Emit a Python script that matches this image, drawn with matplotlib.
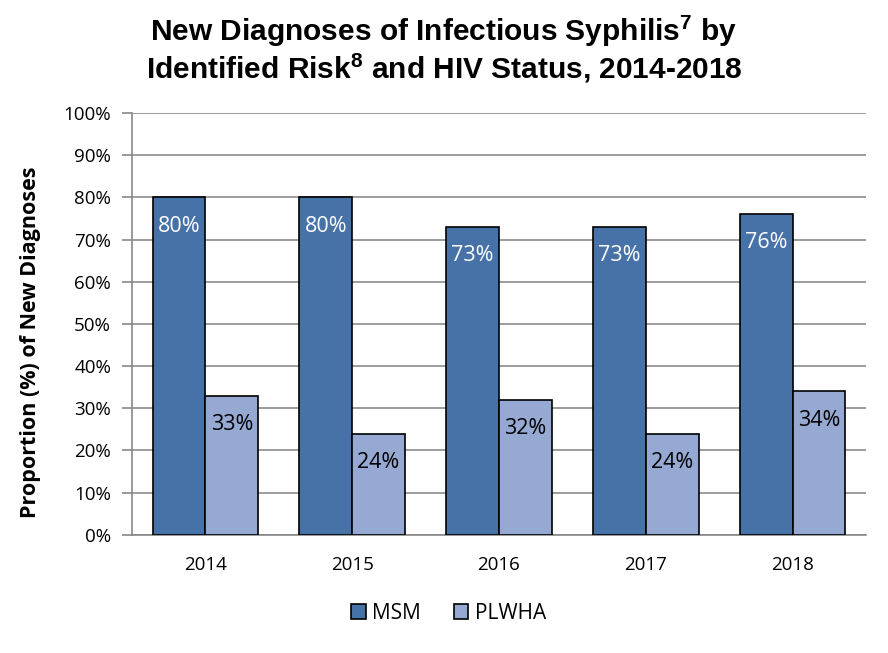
import matplotlib
matplotlib.use("Agg")
import matplotlib.pyplot as plt
import numpy as np

years = ["2014", "2015", "2016", "2017", "2018"]
msm = [80, 80, 73, 73, 76]
plwha = [33, 24, 32, 24, 34]
yticks = [0, 10, 20, 30, 40, 50, 60, 70, 80, 90, 100]

plt.rcParams['font.family'] = ['Open Sans', 'DejaVu Sans']
plt.rcParams['mathtext.fontset'] = 'custom'
plt.rcParams['mathtext.rm'] = 'Liberation Sans:bold'
plt.rcParams['mathtext.bf'] = 'Liberation Sans:bold'

fig = plt.figure(figsize=(8.88, 6.53), dpi=100)
ax = fig.add_axes([0.1486, 0.181, 0.8266, 0.646])

x = np.arange(len(years))
w = 0.36
b1 = ax.bar(x - w/2, msm, w, color='#4672A8', edgecolor='black', linewidth=1.2, label='MSM', zorder=3)
b2 = ax.bar(x + w/2, plwha, w, color='#95A9D2', edgecolor='black', linewidth=1.2, label='PLWHA', zorder=3)

# data labels just inside the bar tops
for xi, v in zip(x, msm):
    ax.text(xi - w/2, v - 6.8, "%d%%" % v, ha='center', va='center', color='white', fontsize=15.5, zorder=4)
for xi, v in zip(x, plwha):
    ax.text(xi + w/2, v - 6.8, "%d%%" % v, ha='center', va='center', color='black', fontsize=15.5, zorder=4)

ax.set_xlim(-0.5, len(years) - 0.5)
ax.set_ylim(0, 100)
ax.set_yticks(yticks)
ax.set_yticklabels(["%d%%" % t for t in yticks], fontsize=13.5)
ax.set_xticks(x)
ax.set_xticklabels(years, fontsize=13.5)
ax.tick_params(axis='x', length=0, pad=15)
ax.tick_params(axis='y', length=7, width=1.2, color='#888888', pad=8)
ax.yaxis.grid(True, color='#8c8c8c', linewidth=1.2, zorder=0)
for s in ['top', 'right']:
    ax.spines[s].set_visible(False)
ax.spines['left'].set_color('#888888')
ax.spines['left'].set_linewidth(1.2)
ax.spines['bottom'].set_color('#888888')
ax.spines['bottom'].set_linewidth(1.2)

ax.set_ylabel("Proportion (%) of New Diagnoses", fontsize=15.5, fontweight='bold')
ax.yaxis.set_label_coords(-0.124, 0.457)

fig.text(0.5, 0.925, r"New Diagnoses of Infectious Syphilis$^{7}$ by" "\n"
         r"Identified Risk$^{8}$ and HIV Status, 2014-2018",
         ha='center', va='center', fontsize=21.5, fontweight='bold',
         family='Liberation Sans', linespacing=1.05)

fig.legend(handles=[b1, b2], loc='center', bbox_to_anchor=(0.505, 0.061), ncol=2,
           frameon=False, fontsize=15, handlelength=0.7, handleheight=0.7,
           handletextpad=0.3, columnspacing=1.6)

fig.savefig("out.png", dpi=100)
